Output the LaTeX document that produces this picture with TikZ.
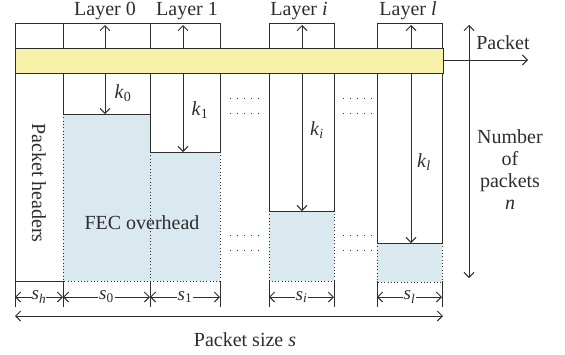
\documentclass[tikz,border=0pt]{standalone}
\usepackage{fontspec}
\setmainfont{Liberation Serif}
\usetikzlibrary{arrows.meta}
\definecolor{barY}{RGB}{247,240,168}
\definecolor{fecB}{RGB}{218,232,240}
\definecolor{ln}{RGB}{45,45,45}
\tikzset{
  tipb/.tip={Straight Barb[length=5pt,width=10pt]},
  oneway/.style={-tipb},
  twoway/.style={tipb-tipb},
  dotb/.style={dash pattern=on 1pt off 2.3pt},
  gapdots/.style={line width=1pt,dash pattern=on 1pt off 6pt},
  lbl/.style={inner sep=0pt,font=\fontsize{20}{22}\selectfont},
  dim/.style={fill=white,inner sep=1.2pt,font=\fontsize{19}{22}\selectfont},
}
\begin{document}
\begin{tikzpicture}[x=1pt,y=-1pt,line width=0.9pt,color=ln]
\useasboundingbox (0,0) rectangle (565,354);
% blue FEC regions
\fill[fecB] (63,114) rectangle (150,281);
\fill[fecB] (150,152) rectangle (220,281);
\fill[fecB] (269,211) rectangle (334,281);
\fill[fecB] (377,243) rectangle (442,282);
% dotted borders of FEC regions
\draw[dotb] (63,114) -- (63,281) -- (220,281) -- (220,152);
\draw[dotb] (150,152) -- (150,281);
\draw[dotb] (269,211) -- (269,281) -- (334,281) -- (334,211);
\draw[dotb] (377,243) -- (377,282) -- (442,282) -- (442,243);
% top boxes
\foreach \a/\b in {15/63,63/150,150/220,269/334,377/442}
  \draw (\a,23) rectangle (\b,48);
% columns below the bar
\draw (15,73) -- (15,307);
\draw (15,281) -- (63,281);
\draw (63,73) -- (63,114) -- (150,114);
\draw (150,73) -- (150,152) -- (220,152) -- (220,73);
\draw (269,73) -- (269,211) -- (334,211) -- (334,73);
\draw (377,73) -- (377,243) -- (442,243) -- (442,73);
% ticks
\foreach \x in {63,150,220,269,334,377,442}
  \draw (\x,281) -- (\x,307);
% yellow packet bar
\draw[fill=barY] (15,48) rectangle (443,73);
% gap dots
\foreach \y in {98,113,235,250}{
  \draw[gapdots] (230,\y) -- (259,\y);
  \draw[gapdots] (343,\y) -- (372,\y);
}
% named coordinates
\coordinate (u0t) at (105,25);  \coordinate (u0b) at (105,48);
\coordinate (u1t) at (183,25);  \coordinate (u1b) at (183,48);
\coordinate (uit) at (302,25);  \coordinate (uib) at (302,48);
\coordinate (ult) at (411,25);  \coordinate (ulb) at (411,48);
\coordinate (d0t) at (105,73);  \coordinate (d0b) at (105,114);
\coordinate (d1t) at (183,73);  \coordinate (d1b) at (183,152);
\coordinate (dit) at (302,73);  \coordinate (dib) at (302,211);
\coordinate (dlt) at (411,73);  \coordinate (dlb) at (411,243);
\coordinate (pa) at (443,60);   \coordinate (pb) at (528,60);
\coordinate (nt) at (469,25);   \coordinate (nb) at (469,278);
\coordinate (sz1) at (15,316);  \coordinate (sz2) at (443,316);
\foreach \n/\x in {h/15,0/63,1/150,2/220,3/269,4/334,5/377,6/442}
  \coordinate (t\n) at (\x,297);
% arrows
\foreach \c in {0,1,i,l}{
  \draw[oneway] (u\c b) -- (u\c t);
  \draw[oneway] (d\c t) -- (d\c b);
}
\draw[oneway] (pa) -- (pb);
\draw[twoway] (nt) -- (nb);
\draw[twoway] (sz1) -- (sz2);
\draw[twoway] (th) -- node[dim,inner sep=0pt]{\textit{s}\textsubscript{\textit{h}}} (t0);
\draw[twoway] (t0) -- node[dim]{\textit{s}\textsubscript{0}} (t1);
\draw[twoway] (t1) -- node[dim]{\textit{s}\textsubscript{1}} (t2);
\draw[twoway] (t3) -- node[dim]{\textit{s}\textsubscript{\textit{i}}} (t4);
\draw[twoway] (t5) -- node[dim]{\textit{s}\textsubscript{\textit{l}}} (t6);
% labels
\node[lbl,anchor=base] (L0) at (105,15.5) {Layer 0};
\node[lbl,anchor=base] (L1) at (187,15.5) {Layer 1};
\node[lbl,anchor=base] (Li) at (299,15.5) {Layer \textit{i}};
\node[lbl,anchor=base] (Ll) at (408,15.5) {Layer \textit{l}};
\node[lbl] (k0) at (123,93) {\textit{k}\textsubscript{0}};
\node[lbl] (k1) at (200,110) {\textit{k}\textsubscript{1}};
\node[lbl] (ki) at (317,130) {\textit{k}\textsubscript{\textit{i}}};
\node[lbl] (kl) at (424,162) {\textit{k}\textsubscript{\textit{l}}};
\node[lbl,rotate=-90] (ph) at (39,183) {Packet headers};
\node[lbl] (fec) at (142,223) {FEC overhead};
\node[lbl] (pk) at (503,43) {Packet};
\node[lbl,align=center] (np) at (510,170) {Number\\of\\packets\\\textit{n}};
\node[lbl] (ps) at (245,340) {Packet size \textit{s}};
\end{tikzpicture}
\end{document}
